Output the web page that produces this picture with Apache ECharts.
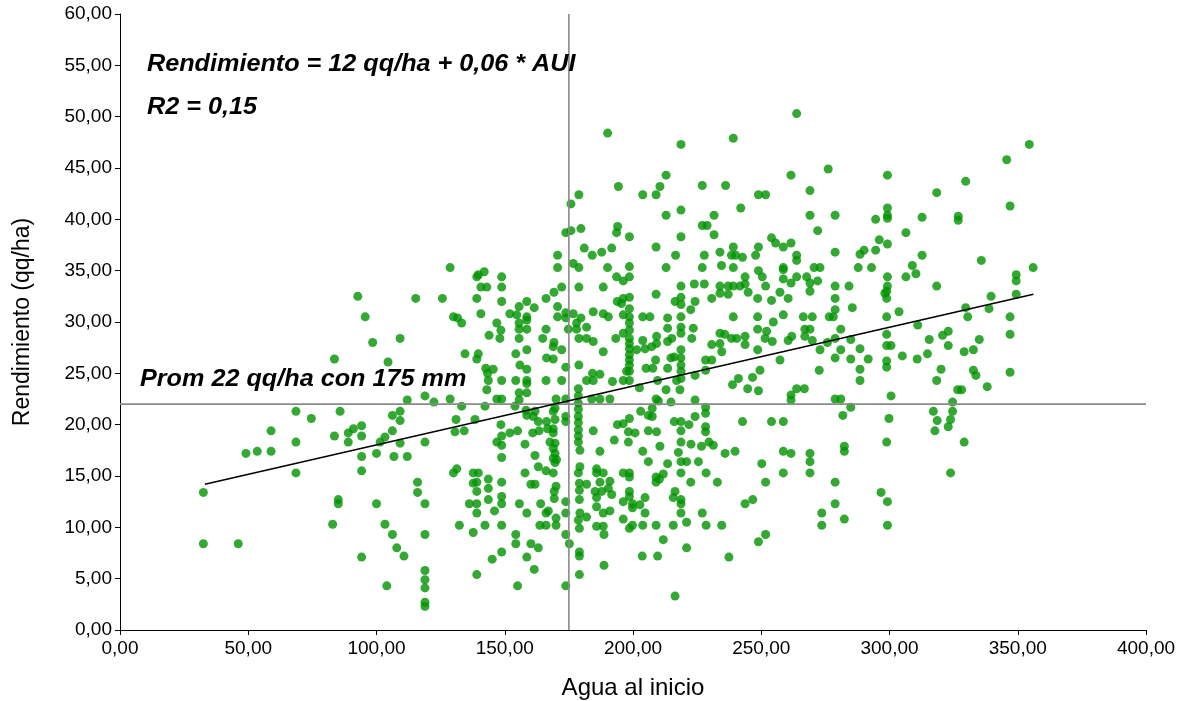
<!DOCTYPE html>
<html>
<head>
<meta charset="utf-8">
<script src="https://cdn.jsdelivr.net/npm/echarts@6/dist/echarts.min.js"></script>
<style>html,body{margin:0;padding:0;background:#fff;}#c{width:1184px;height:701px;}</style>
</head>
<body>
<div id="c"></div>
<script>
// Scatter points [agua al inicio (mm), rendimiento (qq/ha)] grouped by zone
const puntosOeste = [
[92.7,32.5],[115.3,32.3],[95.6,30.5],[98.5,28.0],[109.2,28.4],[83.6,26.4],[104.5,26.1],[112.0,22.4],[118.9,22.8],
[68.6,21.3],[74.6,20.6],[85.8,21.3],[58.9,19.4],[68.6,18.3],[49.1,17.2],[53.5,17.4],[58.9,17.4],[83.6,18.9],
[89.0,19.2],[91.0,19.6],[94.2,19.9],[94.2,18.9],[89.0,18.3],[106.2,20.9],[109.2,21.3],[109.2,20.4],[106.2,19.4],
[103.3,18.8],[101.4,18.3],[109.2,18.2],[118.9,18.3],[94.2,16.9],[100.0,17.2],[106.8,16.9],[112.0,16.9],[68.6,15.3],
[94.2,15.5],[32.5,13.4],[116.0,14.4],[116.0,13.4],[85.1,12.7],[85.1,12.3],[100.0,12.3],[118.9,12.3],[82.9,10.3],
[103.3,10.3],[106.2,9.3],[118.9,9.3],[32.5,8.4],[46.1,8.4],[107.9,8.0],[110.7,7.2],[94.2,7.1],[118.9,5.8],
[118.9,4.9],[118.9,4.1],[118.9,2.7],[118.9,2.3],[104.0,4.3]
];
const puntosCentroAlto = [
[190.1,48.4],[194.3,43.2],[178.9,42.4],[175.8,41.5],[173.8,38.7],[175.8,38.9],[179.7,39.1],[194.0,39.3],[193.6,38.7],
[181.0,37.2],[184.1,36.5],[187.8,36.8],[191.7,37.2],[170.6,36.5],[170.6,35.3],[176.7,35.7],[178.9,35.3],[190.1,35.3],
[193.6,34.4],[128.7,35.3],[142.0,34.9],[139.7,34.6],[139.1,34.4],[148.8,34.4],[140.7,33.4],[143.0,33.4],[148.8,33.4],
[172.2,33.4],[178.9,33.4],[188.4,33.4],
[125.7,32.3],[139.1,32.3],[148.8,32.0],[158.6,32.0],[166.1,32.3],[169.2,32.9],[170.6,31.5],[193.9,32.0],[155.6,31.5],
[161.5,31.4],[130.0,30.5],[131.6,30.4],[133.2,29.9],[140.7,30.8],[152.0,30.8],[154.7,30.7],[158.6,30.5],[170.6,30.5],
[173.8,30.9],[176.7,30.8],[179.7,30.4],[184.5,31.0],[188.4,30.8],[190.4,30.5],[173.8,30.4],[146.9,29.9],[148.5,29.2],
[155.6,29.9],[158.6,30.2],[155.6,29.3],[158.6,29.3],[166.1,29.3],[174.8,29.3],[178.0,29.9],[178.0,29.3],[181.9,29.5],
[143.9,28.7],[148.1,28.4],[155.6,28.4],[164.8,28.4],[169.2,28.0],[168.9,27.6],[178.9,28.4],[181.9,28.4],[184.5,28.1],
[193.3,28.4],[172.2,27.3],[158.6,27.3],[188.4,27.1],[134.5,26.9],[139.7,26.9],[139.1,26.4],[154.3,26.9],[166.3,26.5],
[168.9,26.4],[155.9,25.8],[158.6,25.4],[173.8,25.6],[142.6,25.5],[145.5,25.4],[143.3,25.0],[178.9,25.8],[184.2,25.0],
[187.1,24.9],[181.9,24.3],[184.5,24.3],[143.6,24.3],[148.8,24.3],[154.3,24.3],[158.6,24.3],[158.6,24.0],[166.1,24.3],
[172.2,24.3],[192.0,24.2]
];
const puntosCentroMedio = [
[178.7,23.5],[178.7,22.8],[178.7,22.1],[178.7,21.5],[178.7,20.8],[178.7,20.2],[178.7,19.5],[178.7,18.9],[178.7,18.3],
[143.0,23.4],[122.4,22.2],[128.7,22.5],[146.9,22.5],[148.8,22.5],[155.6,23.1],[155.6,22.4],[158.6,23.1],[170.0,22.5],
[173.8,22.5],[183.9,22.5],[187.1,22.5],[191.0,22.5],[133.2,21.8],[142.3,21.8],[154.0,21.8],[158.3,21.4],[158.6,20.9],
[161.8,21.3],[161.1,20.8],[169.6,21.6],[168.9,21.3],[169.6,20.5],[173.8,20.8],[173.8,20.3],[131.0,20.5],[138.4,20.5],
[134.2,19.4],[130.6,19.3],[148.5,20.0],[163.1,20.3],[166.3,20.3],[166.7,19.6],[168.9,19.6],[152.0,19.2],[155.0,19.4],
[160.9,19.2],[163.4,19.4],[168.9,19.2],[184.5,19.4],[148.8,18.9],[146.9,18.3],[148.8,18.0],[157.9,18.1],[167.6,18.3],
[169.6,18.2],[168.9,17.7],[169.6,17.2],[192.7,18.5],[187.1,17.4],[161.8,17.0]
];
const puntosCentroBajo = [
[148.8,16.8],[168.9,16.7],[169.6,16.3],[170.2,16.6],[179.3,17.5],[131.3,15.7],[130.0,15.3],[137.7,15.3],[139.7,15.3],
[163.1,15.9],[166.1,15.5],[157.9,15.3],[168.9,15.3],[179.3,15.9],[178.7,15.3],[185.8,15.7],[185.8,15.3],[188.4,15.3],
[143.6,14.7],[137.7,14.3],[139.1,14.4],[148.8,14.4],[160.2,14.2],[161.8,14.2],[170.0,14.0],[169.3,13.5],[169.3,12.8],
[179.1,14.3],[181.9,14.2],[187.1,14.4],[191.0,14.5],[143.6,13.8],[179.1,13.6],[139.1,13.5],[185.2,13.5],[187.8,13.5],
[190.4,13.8],[191.7,13.2],[185.8,12.9],[143.6,12.7],[148.8,13.0],[148.8,12.3],[136.2,12.3],[139.1,12.3],[155.7,12.3],
[164.0,12.3],[173.8,12.5],[179.1,12.7],[139.1,11.4],[146.0,11.6],[158.6,11.4],[166.1,11.4],[167.0,11.6],[173.8,11.4],
[185.8,12.0],[188.4,11.4],[191.0,11.6],[179.3,11.4],[181.9,11.0],[178.7,10.7],[170.0,10.9],[170.0,10.2],[132.3,10.2],
[142.3,10.2],[148.8,10.2],[163.7,10.2],[166.1,10.2],[179.1,9.9],[185.8,10.1],[188.4,10.1],[188.7,9.3],[137.7,9.5],
[154.3,9.3],[154.3,8.4],[173.8,9.3],[175.2,8.4],[160.2,8.4],[163.1,8.0],[179.1,7.6],[179.1,7.2],[148.8,7.6],[145.1,6.9],
[158.6,7.1],[161.5,5.9],[188.7,6.3],[139.1,5.4],[179.1,5.4],[155.0,4.3],[173.8,4.3]
];
const puntosEsteAlto = [
[263.8,50.3],[239.1,47.9],[218.7,47.3],[276.1,44.9],[261.6,44.3],[212.9,44.3],[210.5,43.2],[209.0,42.4],[203.8,42.4],
[227.0,43.3],[236.1,43.3],[248.9,42.4],[251.7,42.4],[269.0,42.8],[218.7,40.9],[242.0,41.1],[212.9,40.4],[231.6,40.4],
[269.0,40.4],[227.0,39.4],[228.9,39.4],[198.6,38.3],[218.7,38.3],[231.6,38.5],[272.0,38.9],[209.0,37.3],[254.0,38.2],
[255.6,37.7],[258.6,37.3],[261.6,37.7],[239.1,37.3],[248.9,37.3],[216.6,36.5],[227.8,36.5],[233.9,36.8],[238.4,36.5],
[240.0,36.5],[242.7,36.3],[247.8,36.5],[263.8,36.5],[263.8,36.0],[198.6,35.4],[212.9,35.3],[227.0,35.3],[234.5,35.5],
[239.1,35.3],[248.9,35.0],[250.4,34.4],[258.6,35.3],[258.6,35.1],[258.6,34.2],[263.8,34.4],[267.7,34.4],[270.6,35.3],
[272.9,35.3],[272.0,34.0],[196.2,34.0],[198.6,34.4],[243.7,34.4],[218.7,33.5],[223.9,33.7],[227.8,33.7],[233.9,33.5],
[237.1,33.5],[239.1,33.5],[241.7,33.5],[243.7,33.7],[251.7,33.5]
];
const puntosEsteMedio = [
[261.6,33.8],[209.0,32.7],[218.7,32.4],[216.4,32.0],[218.7,31.7],[224.2,32.0],[222.5,31.2],[230.7,32.3],[233.9,32.8],
[237.1,32.7],[244.9,32.9],[248.6,32.3],[254.0,32.1],[257.3,32.9],[260.5,32.3],[269.0,33.8],[269.0,33.0],
[196.2,32.3],[198.6,32.4],[195.5,31.8],[198.6,31.3],[196.2,30.7],[198.6,30.5],[198.6,29.9],[198.6,29.2],[196.2,28.9],
[198.6,28.4],[198.6,27.9],[198.6,27.4],[198.6,26.8],[198.6,26.3],[198.6,25.8],[197.5,25.2],[198.6,25.2],[196.2,24.3],
[198.6,24.3],[203.8,30.5],[206.6,30.5],[213.5,30.4],[218.7,30.5],[239.1,30.5],[248.6,30.5],[254.7,30.0],[258.6,30.7],
[266.4,30.5],[269.9,30.5],[213.5,29.4],[218.7,29.5],[218.7,28.9],[223.5,29.4],[222.9,28.4],[203.8,28.2],[207.3,27.6],
[204.7,27.4],[201.4,27.3],[209.2,28.6],[209.2,27.9],[215.1,28.4],[213.5,28.1],[233.9,28.9],[235.8,28.8],[238.4,28.4],
[240.4,28.4],[243.7,28.6],[230.7,27.8],[233.9,27.9],[234.6,27.1],[243.7,27.8],[248.6,29.3],[252.1,29.1],[251.5,28.4],
[254.3,28.1],[261.9,28.6],[260.5,28.2],[267.0,29.3],[269.0,29.3],[267.0,28.6],[269.9,28.2],[272.9,27.3],[272.6,25.3],
[248.6,27.3],[218.7,27.3],[218.7,26.5],[216.1,26.6],[214.8,26.5],[208.8,26.3],[205.1,25.5],[207.7,25.5],[213.5,25.5],
[218.7,25.8],[218.7,25.2],[218.7,24.5],[217.0,24.3],[228.3,26.3],[230.7,26.3],[228.3,25.3],[224.2,24.8],[241.1,24.5],
[238.8,23.9],[246.6,24.6],[249.5,25.3],[257.3,26.3],[244.7,23.5],[248.9,23.3],[263.8,23.5],[266.8,23.5],[261.6,22.9],
[261.6,22.4],[209.6,24.3],[212.9,23.4],[218.3,23.4],[202.5,23.6],[209.0,22.5],[209.9,22.3],[214.8,22.2],[224.2,22.4],
[228.3,21.7],[228.3,21.1],[203.0,21.3],[207.5,21.6],[207.5,20.8],[206.0,20.9],[224.2,20.8],[221.8,20.0],[218.7,20.3],
[216.1,20.3],[193.9,20.0],[196.2,20.1],[198.6,20.6],[198.2,19.3],[200.8,19.2],[206.0,19.4],[209.2,19.3],[218.7,19.4],
[228.3,19.8],[228.3,19.3],[242.7,20.3],[254.0,20.3],[258.6,20.3],[198.2,18.3],[210.5,17.9],[218.7,18.3],[222.6,18.1],
[226.7,17.9],[229.6,18.3],[231.3,18.0],[203.8,17.4],[217.7,17.3],[235.9,17.2],[239.8,17.4],[258.6,17.4],[261.6,17.2],
[269.0,17.2]
];
const puntosEsteBajo = [
[269.0,16.4],[269.0,15.3],[206.0,16.4],[213.5,16.2],[218.7,16.4],[220.9,16.4],[225.5,16.4],[250.2,16.2],[196.2,15.3],
[198.6,15.3],[198.6,14.9],[209.0,14.9],[211.8,15.2],[209.0,14.4],[210.3,14.7],[218.7,15.3],[228.5,15.3],[222.5,14.4],
[232.9,14.4],[258.6,15.3],[251.7,14.4],[198.6,13.5],[198.6,13.0],[196.2,12.5],[199.8,12.3],[199.8,11.9],[202.7,12.2],
[204.7,12.9],[216.4,13.5],[215.7,12.9],[218.7,12.7],[218.7,12.3],[204.7,11.4],[218.7,11.4],[227.0,11.4],[243.7,12.3],
[246.7,12.7],[196.2,10.8],[198.6,9.9],[199.8,10.2],[203.8,10.2],[209.0,10.2],[215.7,10.2],[220.9,10.5],[228.5,10.2],
[234.6,10.2],[273.6,11.4],[273.6,10.2],[211.8,8.8],[220.9,8.0],[248.9,8.6],[251.7,9.3],[203.6,7.2],[209.6,7.2],
[237.4,7.1],[216.4,3.3]
];
const puntosLejano = [
[354.5,47.3],[345.7,45.8],[299.2,44.3],[329.7,43.7],[318.4,42.6],[347.0,41.3],[278.8,40.4],[294.6,40.0],[299.2,41.1],
[299.2,40.4],[299.2,40.1],[312.7,40.2],[326.8,40.3],[326.8,39.9],[306.4,38.7],[296.0,38.0],[299.2,37.6],[294.6,37.0],
[290.1,37.0],[288.5,36.6],[278.8,36.8],[312.7,36.5],[335.8,36.0],[308.9,35.5],[310.3,34.7],[306.4,34.4],[287.8,35.3],
[293.0,35.3],[356.0,35.3],[349.4,34.6],[349.4,34.0],[299.2,34.4],[299.2,33.5],[278.8,33.5],[284.2,33.5],[318.4,33.5],
[298.9,33.0],[298.2,32.8],[298.9,32.3],[349.4,32.7],[339.6,32.5],[278.8,32.3],[278.8,31.2],[276.5,30.5],[278.1,30.5],
[285.5,31.4],[298.9,30.5],[303.7,31.0],[329.7,31.4],[330.5,30.5],[338.8,31.3],[347.0,30.5],[281.0,29.3],[311.0,29.7],
[298.9,28.8],[347.0,28.8],[322.9,29.1],[320.7,28.7],[275.8,28.0],[278.8,28.4],[284.9,28.3],[288.5,27.4],[281.0,27.3],
[278.8,26.5],[298.9,27.7],[300.6,27.7],[315.5,28.3],[322.9,27.7],[335.0,28.3],[332.7,27.3],[329.1,27.1],[314.8,26.9],
[305.0,26.7],[284.9,26.4],[291.7,26.4],[298.9,26.2],[298.9,25.6],[310.8,26.4],[288.5,25.4],[288.5,24.3],[320.1,25.4],
[318.4,24.3],[332.7,25.3],[333.7,24.8],[347.0,25.1],[338.1,23.7],[326.6,23.4],[328.1,23.4],[300.6,22.8],[278.8,22.5],
[281.0,22.5],[324.6,22.2],[324.6,21.3],[323.8,20.5],[322.9,19.8],[317.1,21.3],[318.6,20.4],[317.7,19.4],[284.9,21.7],
[281.8,20.9],[299.8,20.6],[329.1,18.3],[298.9,18.3],[282.4,17.9],[282.4,17.4],
[323.8,15.3],[278.8,14.4],[296.7,13.4],[299.2,12.5],[278.8,12.3],[282.4,10.8],[299.2,10.2]
];

// Regression line endpoints (agua, rendimiento)
const regresionAgua = [33.1, 356.1];
const regresionRend = [14.2, 32.7];
// Mean reference lines
const promAgua = 175;
const promRend = 22;
// Axis ranges
const ejeX = {min: 0, max: 400, interval: 50};
const ejeY = {min: 0, max: 60, interval: 5};
// Texts
const textoEcuacion = 'Rendimiento = 12 qq/ha + 0,06 * AUI';
const textoR2 = 'R2 = 0,15';
const textoProm = 'Prom 22 qq/ha con 175 mm';
const nombreX = 'Agua al inicio';
const nombreY = 'Rendimiento (qq/ha)';

const puntos = [].concat(puntosOeste, puntosCentroAlto, puntosCentroMedio, puntosCentroBajo,
  puntosEsteAlto, puntosEsteMedio, puntosEsteBajo, puntosLejano);

const fmt = v => v.toFixed(2).replace('.', ',');
const FONT = '"Liberation Sans", Arial, sans-serif';
const annotFont = 'italic bold 24px ' + FONT;

const chart = echarts.init(document.getElementById('c'), null, {renderer: 'canvas'});
chart.setOption({
  animation: false,
  backgroundColor: '#ffffff',
  grid: {left: 120, right: 38, top: 14, bottom: 71, containLabel: false, outerBoundsMode: 'none'},
  xAxis: {
    type: 'value', min: ejeX.min, max: ejeX.max, interval: ejeX.interval,
    name: nombreX, nameLocation: 'middle', nameGap: 46,
    nameTextStyle: {fontFamily: FONT, fontSize: 24, color: '#000'},
    axisLine: {lineStyle: {color: '#000', width: 1}},
    axisTick: {show: true, length: 5, lineStyle: {color: '#000'}},
    axisLabel: {formatter: fmt, fontFamily: FONT, fontSize: 19, color: '#000', margin: 9},
    splitLine: {show: false}
  },
  yAxis: {
    type: 'value', min: ejeY.min, max: ejeY.max, interval: ejeY.interval,
    name: nombreY, nameLocation: 'middle', nameGap: 86, nameRotate: 90,
    nameTextStyle: {fontFamily: FONT, fontSize: 23, color: '#000'},
    axisLine: {show: true, lineStyle: {color: '#000', width: 1}},
    axisTick: {show: true, length: 5, lineStyle: {color: '#000'}},
    axisLabel: {formatter: fmt, fontFamily: FONT, fontSize: 19, color: '#000', margin: 8},
    splitLine: {show: false}
  },
  series: [
    {
      type: 'scatter', data: puntos, symbol: 'circle', symbolSize: 9,
      itemStyle: {color: '#009400'}, z: 2
    },
    {
      type: 'line', data: [[promAgua, ejeY.min], [promAgua, ejeY.max]], symbol: 'none',
      lineStyle: {color: '#8a8a8a', width: 1.6}, z: 3
    },
    {
      type: 'line', data: [[ejeX.min, promRend], [ejeX.max, promRend]], symbol: 'none',
      lineStyle: {color: '#8a8a8a', width: 1.6}, z: 3
    },
    {
      type: 'line', data: [[regresionAgua[0], regresionRend[0]], [regresionAgua[1], regresionRend[1]]],
      symbol: 'none', lineStyle: {color: '#000', width: 1.6}, z: 4
    }
  ],
  graphic: [
    {type: 'text', x: 147, y: 52, scaleX: 1.05, z: 10, style: {text: textoEcuacion, fill: '#000', font: annotFont}},
    {type: 'text', x: 147, y: 95, scaleX: 1.05, z: 10, style: {text: textoR2, fill: '#000', font: annotFont}},
    {type: 'text', x: 140, y: 367, scaleX: 1.05, z: 10, style: {text: textoProm, fill: '#000', font: annotFont}}
  ]
});
</script>
</body>
</html>
